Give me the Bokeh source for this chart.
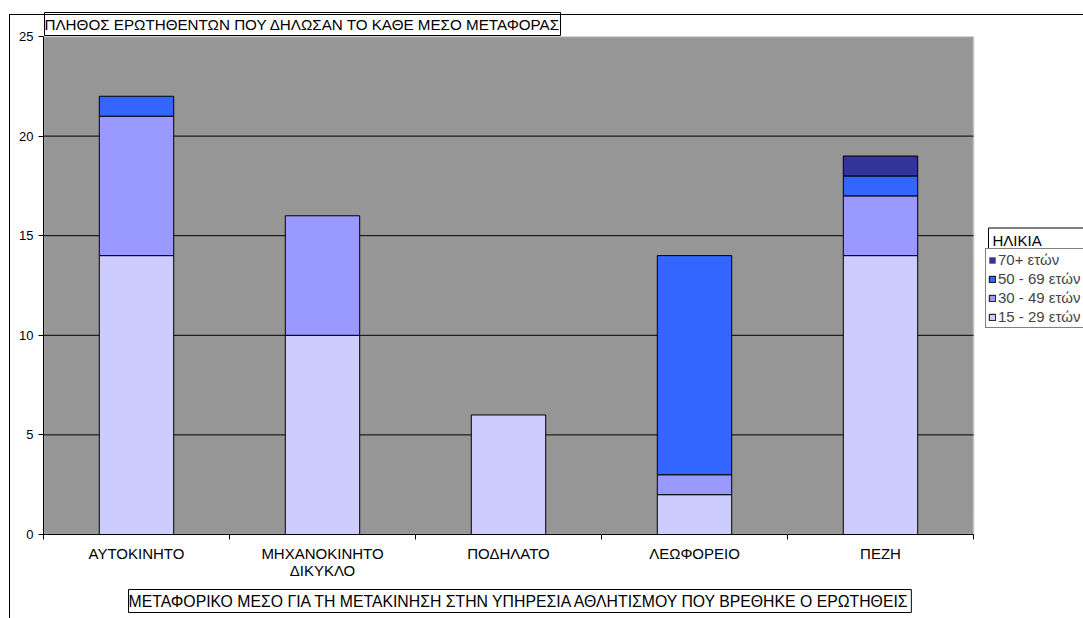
from bokeh.plotting import figure
from bokeh.models import (FixedTicker, Legend, LegendItem, Title, Range1d, Label,
                          ColumnDataSource, InlineStyleSheet)
from bokeh.embed import file_html
from bokeh.resources import INLINE

# ---------------- data ----------------
categories = ["ΑΥΤΟΚΙΝΗΤΟ", "ΜΗΧΑΝΟΚΙΝΗΤΟ\nΔΙΚΥΚΛΟ", "ΠΟΔΗΛΑΤΟ", "ΛΕΩΦΟΡΕΙΟ", "ΠΕΖΗ"]
age_15_29 = [14, 10, 6, 2, 14]
age_30_49 = [7, 6, 0, 1, 3]
age_50_69 = [1, 0, 0, 11, 1]
age_70_plus = [0, 0, 0, 0, 1]
series_keys = ["a15_29", "a30_49", "a50_69", "a70"]
series_names = ["15 - 29 ετών", "30 - 49 ετών", "50 - 69 ετών", "70+ ετών"]
series_colors = ["#CCCCFF", "#9999FF", "#3366FF", "#333399"]
y_ticks = [0, 5, 10, 15, 20, 25]
title_text = "ΠΛΗΘΟΣ ΕΡΩΤΗΘΕΝΤΩΝ ΠΟΥ ΔΗΛΩΣΑΝ ΤΟ ΚΑΘΕ ΜΕΣΟ ΜΕΤΑΦΟΡΑΣ"
xtitle_text = "ΜΕΤΑΦΟΡΙΚΟ ΜΕΣΟ ΓΙΑ ΤΗ ΜΕΤΑΚΙΝΗΣΗ ΣΤΗΝ ΥΠΗΡΕΣΙΑ ΑΘΛΗΤΙΣΜΟΥ ΠΟΥ ΒΡΕΘΗΚΕ Ο ΕΡΩΤΗΘΕΙΣ"
legend_title = "ΗΛΙΚΙΑ"

FONT = "Liberation Sans"

# ---------------- layout constants (pixels) ----------------
W, H = 1083, 618
LEFT, TOP, BOTTOM = 43, 36, 84
PLOT_W = 930            # width of the grey plot area
n = len(categories)
y_max = y_ticks[-1]
x_end = n * (W - LEFT) / PLOT_W   # frame runs to the right edge; grey area ends at n

centers = [i + 0.5 for i in range(n)]
series_values = [age_15_29, age_30_49, age_50_69, age_70_plus]
data = dict(x=centers)
for key, vals in zip(series_keys, series_values):
    data[key] = vals
    data[key + "_la"] = [1.0 if v > 0 else 0.0 for v in vals]   # no outline for empty segments
source = ColumnDataSource(data)

p = figure(width=W, height=H, x_range=Range1d(0, x_end), y_range=Range1d(0, y_max),
           output_backend="svg", toolbar_location=None,
           min_border_left=LEFT, min_border_right=0, min_border_top=TOP,
           min_border_bottom=BOTTOM)

# outer chart-area frame (left and top edges visible in the window)
p.stylesheets = [InlineStyleSheet(css=""":host::after { content: ""; position: absolute;
  left: 9px; top: 14px; right: 0px; bottom: 0px; border-left: 1px solid black;
  border-top: 1px solid black; pointer-events: none; z-index: 5; }""")]

p.background_fill_color = "white"
p.border_fill_color = "white"
p.outline_line_color = None
p.xgrid.visible = False
p.ygrid.visible = False

# grey plot area
p.quad(left=[0], right=[n], bottom=[0], top=[y_max], fill_color="#969696",
       line_color="#C0C0C0", line_width=1.5)
# horizontal gridlines inside the plot area
grid_vals = y_ticks[1:-1]
p.segment(x0=[0] * len(grid_vals), x1=[n] * len(grid_vals), y0=grid_vals, y1=grid_vals,
          line_color="black", line_width=1)

renderers = p.vbar_stack(series_keys, x="x", width=0.4, source=source,
                         fill_color=series_colors, line_color="black", line_width=1,
                         line_alpha=[k + "_la" for k in series_keys])

# y axis
p.yaxis.ticker = FixedTicker(ticks=y_ticks)
p.yaxis.major_tick_out = 5
p.yaxis.major_tick_in = 0
p.yaxis.minor_tick_out = 0
p.yaxis.minor_tick_in = 0
p.yaxis.axis_line_color = "black"
p.yaxis.major_tick_line_color = "black"
p.yaxis.major_label_text_font = FONT
p.yaxis.major_label_text_font_size = "13px"
p.yaxis.major_label_text_color = "black"
p.yaxis.major_label_standoff = 5

# x axis
p.xaxis.bounds = (0, n)
p.xaxis.ticker = FixedTicker(ticks=centers, minor_ticks=list(range(n + 1)))
p.xaxis.major_label_overrides = {c: lab for c, lab in zip(centers, categories)}
p.xaxis.major_tick_out = 0
p.xaxis.major_tick_in = 0
p.xaxis.minor_tick_out = 5
p.xaxis.minor_tick_in = 0
p.xaxis.minor_tick_line_color = "black"
p.xaxis.axis_line_color = "black"
p.xaxis.major_label_text_font = FONT
p.xaxis.major_label_text_font_size = "15px"
p.xaxis.major_label_text_color = "black"
p.xaxis.major_label_standoff = 5
p.xaxis.major_label_text_line_height = 1.0

# titles (boxed, as in the original)
p.title = Title(text=title_text, align="left", offset=1, standoff=2,
                text_font=FONT, text_font_size="15.2px", text_font_style="normal",
                text_color="black", border_line_color="black",
                background_fill_color="white", padding=(0, 3), text_line_height=1.0)
p.add_layout(Title(text=xtitle_text, align="left", offset=85, standoff=12,
                   text_font=FONT, text_font_size="15.8px", text_font_style="normal",
                   text_color="black", border_line_color="black",
                   background_fill_color="white", padding=(0, 3),
                   text_line_height=1.0), "below")

# legend title box (drawn first, the legend box sits right below it)
p.add_layout(Label(x=988, y=239.5, x_units="canvas", y_units="canvas", text=legend_title,
                   text_font=FONT, text_font_size="15px", text_color="black",
                   text_align="left", text_baseline="middle",
                   border_line_color="black", background_fill_color="white",
                   padding=(4, 120, 4, 3)))

# legend (inside the frame, to the right of the grey area)
items = [LegendItem(label=series_names[i], renderers=[renderers[i]])
         for i in reversed(range(len(series_names)))]
legend = Legend(items=items, location=(942, 206), orientation="vertical",
                border_line_color="black", border_line_width=1,
                background_fill_color="white", background_fill_alpha=1,
                label_text_font=FONT, label_text_font_size="15px",
                glyph_width=8, glyph_height=8, label_standoff=2,
                label_height=15, label_width=120, spacing=2, padding=2, margin=0)
p.add_layout(legend)

open("out.html", "w").write(file_html(p, INLINE))
